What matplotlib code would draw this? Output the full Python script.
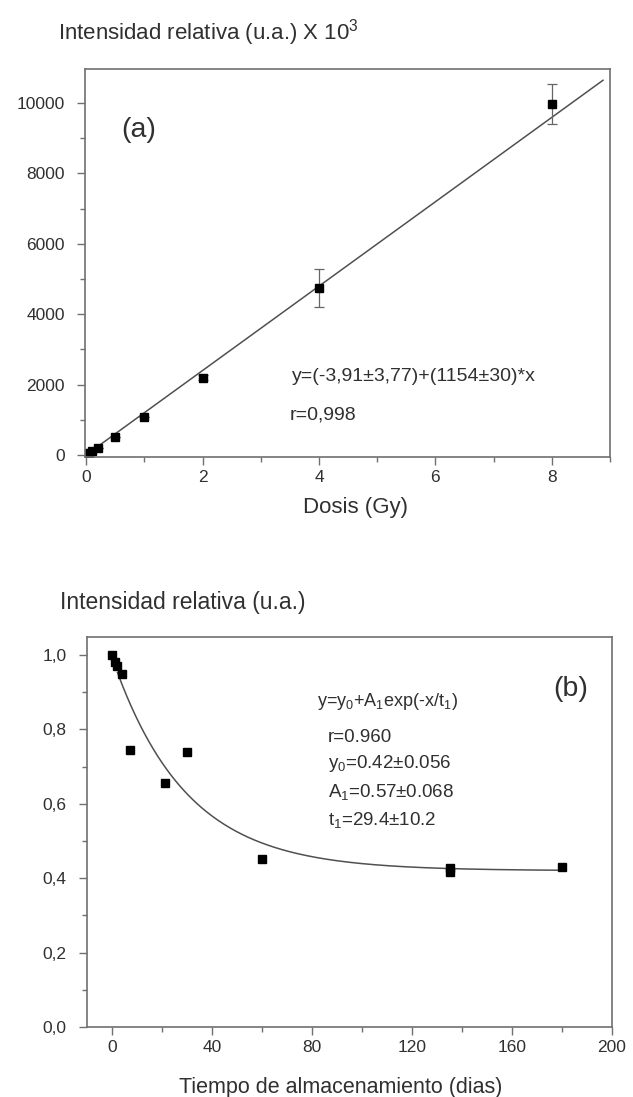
import numpy as np
import matplotlib.pyplot as plt
from matplotlib.ticker import MultipleLocator, FuncFormatter

plt.rcParams['font.family'] = ['Liberation Sans', 'DejaVu Sans']
plt.rcParams['mathtext.default'] = 'regular'

# (a) respuesta con la dosis
dosis = [0.0, 0.05, 0.1, 0.2, 0.5, 1.0, 2.0, 4.0, 8.0]
intensidad = [20, 60, 110, 200, 515, 1080, 2190, 4745, 9970]
err_a = [0, 0, 0, 0, 0, 0, 70, 550, 570]
# recta de ajuste tal como aparece dibujada
recta_x = [0.0, 8.88]
recta_y = [0.0, 10650]

# (b) decaimiento con el tiempo de almacenamiento
dias = [0, 1, 2, 4, 7, 21, 30, 60, 135, 135, 180]
rel = [1.0, 0.98, 0.97, 0.948, 0.745, 0.655, 0.74, 0.451, 0.417, 0.428, 0.431]
y0, A1, t1 = 0.42, 0.57, 29.4

txt = '#303030'
ln = '#505050'
sp = '#707070'

W, H = 633, 1097
fig = plt.figure(figsize=(W / 100, H / 100), dpi=100)


def box(l, t, r, b):
    return [l / W, 1 - b / H, (r - l) / W, (b - t) / H]


def ftext(x, y, s, **kw):
    kw.setdefault('va', 'center')
    kw.setdefault('color', txt)
    fig.text(x / W, 1 - y / H, s, **kw)


# ---- panel a
ax = fig.add_axes(box(85, 69, 610, 457))
ax.plot(recta_x, recta_y, color=ln, lw=1.1)
ax.errorbar(dosis, intensidad, yerr=err_a, fmt='s', ms=6, color='black',
            ecolor='#666666', elinewidth=0.9, capsize=3.5, capthick=0.9)
ax.set_xlim(-0.02, 9.0)
ax.set_ylim(-60, 10970)
ax.xaxis.set_major_locator(MultipleLocator(2))
ax.xaxis.set_minor_locator(MultipleLocator(1))
ax.yaxis.set_major_locator(MultipleLocator(2000))
ax.yaxis.set_minor_locator(MultipleLocator(1000))

ftext(58, 33, r'Intensidad relativa (u.a.) X 10$^3$', fontsize=16)
ftext(355, 508, 'Dosis (Gy)', fontsize=16, ha='center')
ftext(121, 130, '(a)', fontsize=20.5)
ftext(292, 377, 'y=(-3,91±3,77)+(1154±30)*x', fontsize=14)
ftext(290, 415, 'r=0,998', fontsize=14)

# ---- panel b
bx = fig.add_axes(box(87, 637, 612, 1027))
xc = np.linspace(2, 180, 300)
bx.plot(xc, y0 + A1 * np.exp(-xc / t1), color=ln, lw=1.1)
bx.plot(dias, rel, 's', ms=6, color='black')
bx.set_xlim(-10.2, 200)
bx.set_ylim(0.0, 1.048)
bx.xaxis.set_major_locator(MultipleLocator(40))
bx.xaxis.set_minor_locator(MultipleLocator(20))
bx.yaxis.set_major_locator(MultipleLocator(0.2))
bx.yaxis.set_minor_locator(MultipleLocator(0.1))
bx.yaxis.set_major_formatter(FuncFormatter(lambda v, p: f'{v:.1f}'.replace('.', ',')))

ftext(60, 603, 'Intensidad relativa (u.a.)', fontsize=16.5)
ftext(341, 1088, 'Tiempo de almacenamiento (dias)', fontsize=15.5, ha='center')
ftext(553, 689, '(b)', fontsize=20.5)
ftext(317, 702, r'y=y$_0$+A$_1$exp(-x/t$_1$)', fontsize=13)
ftext(328, 737, 'r=0.960', fontsize=13.5)
ftext(328, 763, r'y$_0$=0.42±0.056', fontsize=13.5)
ftext(328, 792, r'A$_1$=0.57±0.068', fontsize=13.5)
ftext(328, 820, r't$_1$=29.4±10.2', fontsize=13.5)

for a in (ax, bx):
    for s in a.spines.values():
        s.set_color(sp)
        s.set_linewidth(1.2)
    a.tick_params(which='both', direction='out', top=False, right=False,
                  color=sp, labelcolor=txt, labelsize=12.5, width=1.0)
    a.tick_params(which='major', length=5.5)
    a.tick_params(which='minor', length=3.5)
    a.tick_params(axis='x', pad=4)
    a.tick_params(axis='y', pad=9)

fig.savefig('out.png', dpi=100)
